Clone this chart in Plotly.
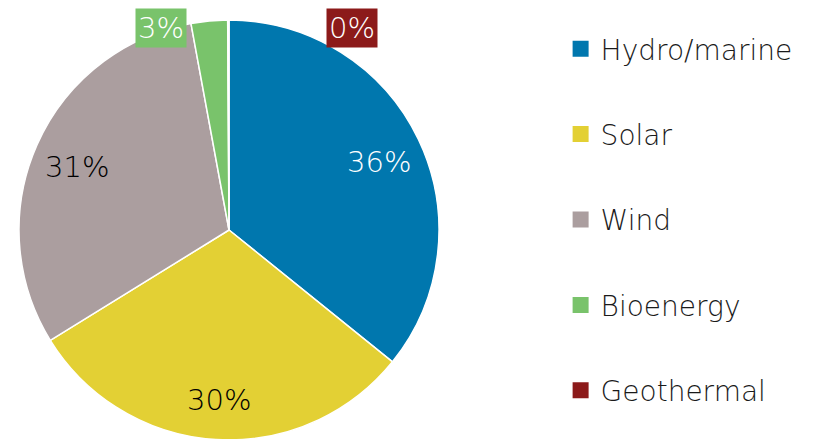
import math
import plotly.graph_objects as go

categories = ["Hydro/marine", "Solar", "Wind", "Bioenergy", "Geothermal"]
shares = [35.8, 30.4, 30.9, 2.8, 0.1]

colors = ["#0077AE", "#E3D034", "#AB9E9F", "#79C36B", "#8C1A1A"]
text_colors = ["white", "black", "black", "white", "white"]
FONT = "DejaVu Sans"
W, H = 829, 439
OFF = 8  # page body margin offset

total = sum(shares)
pct_text = [f"{round(v / total * 100)}%" for v in shares]
small = [v / total < 0.05 for v in shares]

# pie geometry (screen px)
CX, CY, R = 229, 230, 210
dx0, dx1 = (CX - R - OFF) / W, (CX + R - OFF) / W
dy0, dy1 = (H - (CY + R - OFF)) / H, (H - (CY - R - OFF)) / H

fig = go.Figure()
fig.add_trace(go.Pie(
    labels=categories,
    values=shares,
    textinfo="none",
    sort=False,
    direction="clockwise",
    rotation=0,
    marker=dict(colors=colors, line=dict(color="white", width=1.5)),
    showlegend=False,
    hoverinfo="label+percent",
    domain=dict(x=[dx0, dx1], y=[dy0, dy1]),
))

# legend entries via marker-only traces
for name, c in zip(categories, colors):
    fig.add_trace(go.Scatter(
        x=[None], y=[None], mode="markers", name=name,
        marker=dict(symbol="square", size=16, color=c),
        legendgroup=name, showlegend=True,
    ))

# slice labels
cum = 0.0
small_x = {3: 161, 4: 352}
for i, v in enumerate(shares):
    frac = v / total
    mid = (cum + frac / 2) * 2 * math.pi
    cum += frac
    if small[i]:
        sx = small_x[i]
        fig.add_annotation(
            x=(sx - OFF) / W, y=1, xref="paper", yref="paper",
            xanchor="center", yanchor="top",
            text=pct_text[i], showarrow=False,
            font=dict(family=FONT, size=29, color="white", weight=200),
            bgcolor=colors[i], borderpad=2,
        )
    else:
        rr = 0.79 * R
        sx = CX + rr * math.sin(mid)
        sy = CY - rr * math.cos(mid)
        fig.add_annotation(
            x=(sx - OFF) / W, y=(H - (sy - OFF)) / H, xref="paper", yref="paper",
            xanchor="center", yanchor="middle", yshift=-4,
            text=pct_text[i], showarrow=False,
            font=dict(family=FONT, size=29, color=text_colors[i], weight=200),
        )

fig.update_layout(
    width=W, height=H,
    margin=dict(l=0, r=0, t=0, b=0, autoexpand=False),
    paper_bgcolor="white", plot_bgcolor="white",
    xaxis=dict(visible=False), yaxis=dict(visible=False),
    legend=dict(
        x=0.6666, y=1 - 16 / H, xanchor="left", yanchor="top",
        font=dict(family=FONT, size=28, color="#1a1a1a", weight=200),
        tracegroupgap=46, itemsizing="trace",
        bgcolor="rgba(0,0,0,0)",
    ),
)

fig.write_html("out.html")
